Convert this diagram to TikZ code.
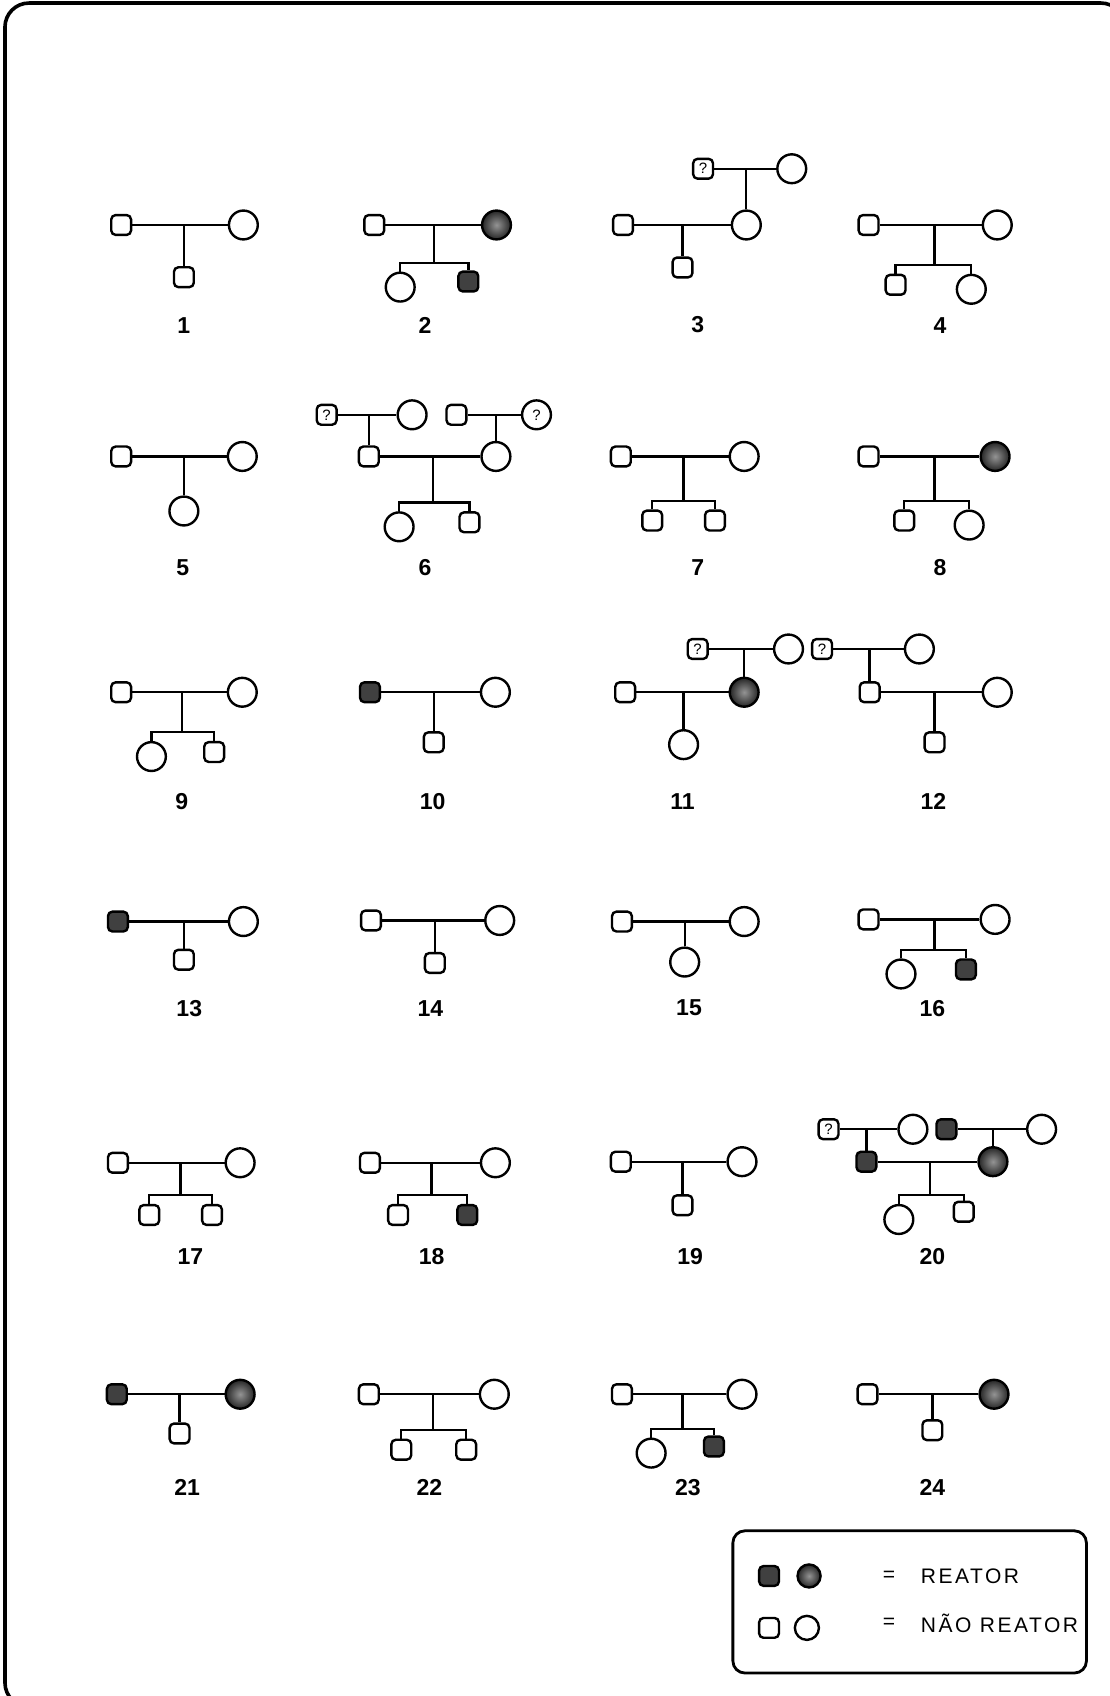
\documentclass[tikz,border=0pt]{standalone}
\usepackage{fontspec}
\setmainfont{Liberation Sans}
\newfontfamily\legfont{Liberation Sans}[LetterSpace=12]
\begin{document}
\begin{tikzpicture}[x=0.54pt,y=-0.54pt]
\tikzset{
  every node/.style={inner sep=0pt},
  ind/.style={draw, line width=1.2pt},
  male/.style={ind, rectangle, rounded corners=2.2pt, minimum size=9.9pt},
  female/.style={ind, circle, minimum size=14.4pt},
  amale/.style={male, fill=black!75},
  afemale/.style={female, inner color=black!42, outer color=black!85},
  qmale/.style={male, font=\fontsize{7.5}{7.5}\selectfont},
  qfemale/.style={female, font=\fontsize{7.5}{7.5}\selectfont},
  rel/.style={line width=1.15pt},
  lab/.style={font=\bfseries\fontsize{11.5}{12}\selectfont},
  legtext/.style={font=\legfont\fontsize{10.5}{12}\selectfont, anchor=west},
}
\useasboundingbox (0,0) rectangle (1026,1568);
\begin{scope}
\clip (0,0) rectangle (1026,1568);
\draw[line width=1.8pt, rounded corners=12pt] (4.6,2.8) rectangle (1040,1578);
\end{scope}

% ---------- Row 1 ----------
% P1
\node[male] (a1) at (112,208) {};
\node[female] (b1) at (225,208) {};
\coordinate (d1) at (170,208);
\node[male,anchor=north] (c1) at (170,246) {};
\draw[rel] (a1) -- (b1);
\draw[rel] (d1) -- (c1);
\node[lab] (L1) at (170,301) {1};
% P2
\node[male] (a2) at (346,208) {};
\node[afemale] (b2) at (459,208) {};
\coordinate (d2) at (401,208);
\coordinate (s2) at (401,243);
\node[female,anchor=north] (c2a) at (370,251) {};
\node[amale,anchor=north] (c2b) at (433,250) {};
\draw[rel] (a2) -- (b2);
\draw[rel] (d2) -- (s2);
\draw[rel] (c2a.north) |- (s2) -| (c2b.north);
\node[lab] (L2) at (393,301) {2};
% P3
\node[qmale] (g3a) at (650,156) {?};
\node[female] (g3b) at (732,156) {};
\coordinate (e3) at (690,156);
\node[male] (a3) at (576,208) {};
\node[female] (b3) at (690,208) {};
\coordinate (d3) at (631,208);
\node[male,anchor=north] (c3) at (631,237) {};
\draw[rel] (g3a) -- (g3b);
\draw[rel] (e3) -- (b3);
\draw[rel] (a3) -- (b3);
\draw[rel] (d3) -- (c3);
\node[lab] (L3) at (645,300) {3};
% P4
\node[male] (a4) at (803,208) {};
\node[female] (b4) at (922,208) {};
\coordinate (d4) at (864,208);
\coordinate (s4) at (864,245);
\node[male,anchor=north] (c4a) at (828,253) {};
\node[female,anchor=north] (c4b) at (898,253) {};
\draw[rel] (a4) -- (b4);
\draw[rel] (d4) -- (s4);
\draw[rel] (c4a.north) |- (s4) -| (c4b.north);
\node[lab] (L4) at (869,301) {4};

% ---------- Row 2 ----------
% P5
\node[male] (a5) at (112,422) {};
\node[female] (b5) at (224,422) {};
\coordinate (d5) at (170,422);
\node[female,anchor=north] (c5) at (170,458) {};
\draw[rel] (a5) -- (b5);
\draw[rel] (d5) -- (c5);
\node[lab] (L5) at (169,525) {5};
% P6
\node[qmale] (g6a) at (302,383.5) {?};
\node[female] (g6b) at (381,383.5) {};
\coordinate (e6a) at (341,383.5);
\node[male] (h6a) at (422,383.5) {};
\node[qfemale] (h6b) at (496,383.5) {?};
\coordinate (e6b) at (458.5,383.5);
\node[male] (a6) at (341,422) {};
\node[female] (b6) at (458.5,422) {};
\coordinate (d6) at (400.5,422);
\coordinate (s6) at (400.5,464.6);
\node[female,anchor=north] (c6a) at (369,472.6) {};
\node[male,anchor=north] (c6b) at (434,472.6) {};
\draw[rel] (g6a) -- (g6b);
\draw[rel] (e6a) -- (a6);
\draw[rel] (h6a) -- (h6b);
\draw[rel] (e6b) -- (b6);
\draw[rel] (a6) -- (b6);
\draw[rel] (d6) -- (s6);
\draw[rel] (c6a.north) |- (s6) -| (c6b.north);
\node[lab] (L6) at (393,525) {6};
% P7
\node[male] (a7) at (574,422) {};
\node[female] (b7) at (688,422) {};
\coordinate (d7) at (632,422);
\coordinate (s7) at (632,463);
\node[male,anchor=north] (c7a) at (603,471) {};
\node[male,anchor=north] (c7b) at (661,471) {};
\draw[rel] (a7) -- (b7);
\draw[rel] (d7) -- (s7);
\draw[rel] (c7a.north) |- (s7) -| (c7b.north);
\node[lab] (L7) at (645,525) {7};
% P8
\node[male] (a8) at (803,422) {};
\node[afemale] (b8) at (920,422) {};
\coordinate (d8) at (864,422);
\coordinate (s8) at (864,463);
\node[male,anchor=north] (c8a) at (836,471) {};
\node[female,anchor=north] (c8b) at (896,471) {};
\draw[rel] (a8) -- (b8);
\draw[rel] (d8) -- (s8);
\draw[rel] (c8a.north) |- (s8) -| (c8b.north);
\node[lab] (L8) at (869,525) {8};

% ---------- Row 3 ----------
% P9
\node[male] (a9) at (112,640) {};
\node[female] (b9) at (224,640) {};
\coordinate (d9) at (168,640);
\coordinate (s9) at (168,677);
\node[female,anchor=north] (c9a) at (140,685) {};
\node[male,anchor=north] (c9b) at (198,685) {};
\draw[rel] (a9) -- (b9);
\draw[rel] (d9) -- (s9);
\draw[rel] (c9a.north) |- (s9) -| (c9b.north);
\node[lab] (L9) at (168,741) {9};
% P10
\node[amale] (a10) at (342,640) {};
\node[female] (b10) at (458,640) {};
\coordinate (d10) at (401,640);
\node[male,anchor=north] (c10) at (401,676) {};
\draw[rel] (a10) -- (b10);
\draw[rel] (d10) -- (c10);
\node[lab] (L10) at (400,741) {10};
% P11
\node[qmale] (g11a) at (645,600) {?};
\node[female] (g11b) at (729,600) {};
\coordinate (e11) at (688,600);
\node[male] (a11) at (578,640) {};
\node[afemale] (b11) at (688,640) {};
\coordinate (d11) at (632,640);
\node[female,anchor=north] (c11) at (632,674) {};
\draw[rel] (g11a) -- (g11b);
\draw[rel] (e11) -- (b11);
\draw[rel] (a11) -- (b11);
\draw[rel] (d11) -- (c11);
\node[lab] (L11) at (631,741) {11};
% P12
\node[qmale] (g12a) at (760,600) {?};
\node[female] (g12b) at (850,600) {};
\coordinate (e12) at (804,600);
\node[male] (a12) at (804,640) {};
\node[female] (b12) at (922,640) {};
\coordinate (d12) at (864,640);
\node[male,anchor=north] (c12) at (864,676) {};
\draw[rel] (g12a) -- (g12b);
\draw[rel] (e12) -- (a12);
\draw[rel] (a12) -- (b12);
\draw[rel] (d12) -- (c12);
\node[lab] (L12) at (863,741) {12};

% ---------- Row 4 ----------
% P13
\node[amale] (a13) at (109,852) {};
\node[female] (b13) at (225,852) {};
\coordinate (d13) at (170,852);
\node[male,anchor=north] (c13) at (170,877) {};
\draw[rel] (a13) -- (b13);
\draw[rel] (d13) -- (c13);
\node[lab] (L13) at (175,932) {13};
% P14
\node[male] (a14) at (343,851) {};
\node[female] (b14) at (462,851) {};
\coordinate (d14) at (402,851);
\node[male,anchor=north] (c14) at (402,880) {};
\draw[rel] (a14) -- (b14);
\draw[rel] (d14) -- (c14);
\node[lab] (L14) at (398,932) {14};
% P15
\node[male] (a15) at (575,852) {};
\node[female] (b15) at (688,852) {};
\coordinate (d15) at (633,852);
\node[female,anchor=north] (c15) at (633,875) {};
\draw[rel] (a15) -- (b15);
\draw[rel] (d15) -- (c15);
\node[lab] (L15) at (637,932) {15};
% P16
\node[male] (a16) at (803,850) {};
\node[female] (b16) at (920,850) {};
\coordinate (d16) at (864,850);
\coordinate (s16) at (864,878);
\node[female,anchor=north] (c16a) at (833,886) {};
\node[amale,anchor=north] (c16b) at (893,886) {};
\draw[rel] (a16) -- (b16);
\draw[rel] (d16) -- (s16);
\draw[rel] (c16a.north) |- (s16) -| (c16b.north);
\node[lab] (L16) at (862,932) {16};

% ---------- Row 5 ----------
% P17
\node[male] (a17) at (109,1075) {};
\node[female] (b17) at (222,1075) {};
\coordinate (d17) at (167,1075);
\coordinate (s17) at (167,1105);
\node[male,anchor=north] (c17a) at (138,1113) {};
\node[male,anchor=north] (c17b) at (196,1113) {};
\draw[rel] (a17) -- (b17);
\draw[rel] (d17) -- (s17);
\draw[rel] (c17a.north) |- (s17) -| (c17b.north);
\node[lab] (L17) at (176,1162) {17};
% P18
\node[male] (a18) at (342,1075) {};
\node[female] (b18) at (458,1075) {};
\coordinate (d18) at (399,1075);
\coordinate (s18) at (399,1105);
\node[male,anchor=north] (c18a) at (368,1113) {};
\node[amale,anchor=north] (c18b) at (432,1113) {};
\draw[rel] (a18) -- (b18);
\draw[rel] (d18) -- (s18);
\draw[rel] (c18a.north) |- (s18) -| (c18b.north);
\node[lab] (L18) at (399,1162) {18};
% P19
\node[male] (a19) at (574,1074) {};
\node[female] (b19) at (686,1074) {};
\coordinate (d19) at (631,1074);
\node[male,anchor=north] (c19) at (631,1104) {};
\draw[rel] (a19) -- (b19);
\draw[rel] (d19) -- (c19);
\node[lab] (L19) at (638,1162) {19};
% P20
\node[qmale] (g20a) at (766,1044) {?};
\node[female] (g20b) at (844,1044) {};
\coordinate (e20a) at (801,1044);
\node[amale] (h20a) at (875,1044) {};
\node[female] (h20b) at (963,1044) {};
\coordinate (e20b) at (918,1044);
\node[amale] (a20) at (801,1074) {};
\node[afemale] (b20) at (918,1074) {};
\coordinate (d20) at (860,1074);
\coordinate (s20) at (860,1105);
\node[female,anchor=north] (c20a) at (831,1113) {};
\node[male,anchor=north] (c20b) at (891,1110) {};
\draw[rel] (g20a) -- (g20b);
\draw[rel] (e20a) -- (a20);
\draw[rel] (h20a) -- (h20b);
\draw[rel] (e20b) -- (b20);
\draw[rel] (a20) -- (b20);
\draw[rel] (d20) -- (s20);
\draw[rel] (c20a.north) |- (s20) -| (c20b.north);
\node[lab] (L20) at (862,1162) {20};

% ---------- Row 6 ----------
% P21
\node[amale] (a21) at (108,1289) {};
\node[afemale] (b21) at (222,1289) {};
\coordinate (d21) at (166,1289);
\node[male,anchor=north] (c21) at (166,1315) {};
\draw[rel] (a21) -- (b21);
\draw[rel] (d21) -- (c21);
\node[lab] (L21) at (173,1375) {21};
% P22
\node[male] (a22) at (341,1289) {};
\node[female] (b22) at (457,1289) {};
\coordinate (d22) at (400,1289);
\coordinate (s22) at (400,1322);
\node[male,anchor=north] (c22a) at (371,1330) {};
\node[male,anchor=north] (c22b) at (431,1330) {};
\draw[rel] (a22) -- (b22);
\draw[rel] (d22) -- (s22);
\draw[rel] (c22a.north) |- (s22) -| (c22b.north);
\node[lab] (L22) at (397,1375) {22};
% P23
\node[male] (a23) at (575,1289) {};
\node[female] (b23) at (686,1289) {};
\coordinate (d23) at (631,1289);
\coordinate (s23) at (631,1321);
\node[female,anchor=north] (c23a) at (602,1329) {};
\node[amale,anchor=north] (c23b) at (660,1327) {};
\draw[rel] (a23) -- (b23);
\draw[rel] (d23) -- (s23);
\draw[rel] (c23a.north) |- (s23) -| (c23b.north);
\node[lab] (L23) at (636,1375) {23};
% P24
\node[male] (a24) at (802,1289) {};
\node[afemale] (b24) at (919,1289) {};
\coordinate (d24) at (862,1289);
\node[male,anchor=north] (c24) at (862,1312) {};
\draw[rel] (a24) -- (b24);
\draw[rel] (d24) -- (c24);
\node[lab] (L24) at (862,1375) {24};

% ---------- Legend ----------
\node[draw, line width=1.4pt, rounded corners=6pt, minimum width=176.5pt, minimum height=71pt] (legend) at (841,1481) {};
\node[amale] (k1) at (711,1457) {};
\node[afemale, minimum size=11.5pt] (k2) at (748,1457) {};
\node[male] (k3) at (711,1505) {};
\node[female, minimum size=12pt] (k4) at (746,1505) {};
\node[font=\fontsize{10.5}{12}\selectfont] (q1) at (822,1457) {=};
\node[font=\fontsize{10.5}{12}\selectfont] (q2) at (822,1501) {=};
\node[legtext] (t1) at (851,1457) {REATOR};
\node[legtext] (t2) at (851,1501) {NÃO REATOR};
\end{tikzpicture}
\end{document}
